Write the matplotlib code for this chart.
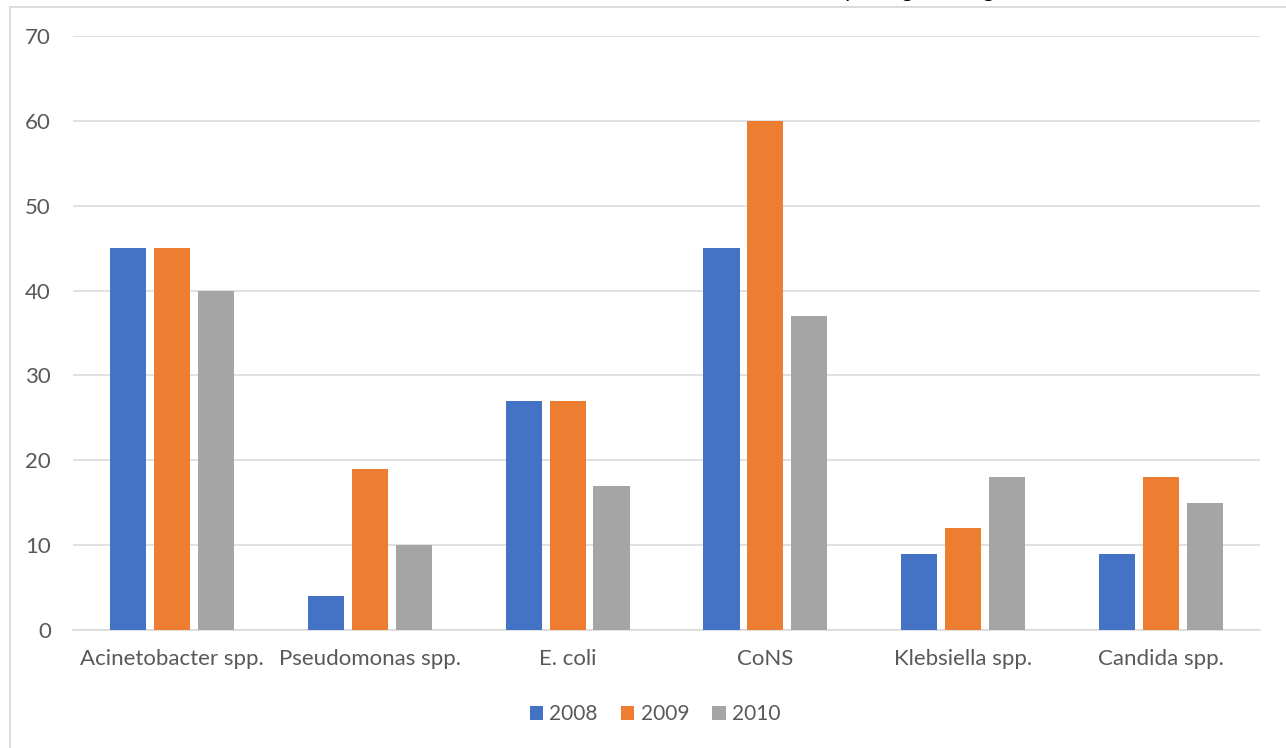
import numpy as np
import matplotlib
matplotlib.use("Agg")
import matplotlib.pyplot as plt
from matplotlib.patches import Rectangle, Patch

plt.rcParams['font.family'] = ['Lato', 'DejaVu Sans']

# data
categories = ['Acinetobacter spp.', 'Pseudomonas spp.', 'E. coli', 'CoNS',
              'Klebsiella spp.', 'Candida spp.']
years = ['2008', '2009', '2010']
v2008 = [45, 4, 27, 45, 9, 9]
v2009 = [45, 19, 27, 60, 12, 18]
v2010 = [40, 10, 17, 37, 18, 15]
colors = ['#4472C4', '#ED7D31', '#A5A5A5']
title = 'were isolated (pathogens) (Figure 1)'

fig = plt.figure(figsize=(12.86, 7.48), dpi=100)
ax = fig.add_axes([73/1286, 1-630/748, (1260-73)/1286, (630-36)/748])

# chart border (light gray frame, partly off the canvas)
fig.patches.append(Rectangle((9.5/1286, -0.05), 1.1, 1-6.5/748+0.05,
                             transform=fig.transFigure, fill=False,
                             edgecolor='#D9D9D9', linewidth=1.3, zorder=0))

x = np.arange(len(categories))
bw = 0.182
step = 0.222
for k, (vals, c) in enumerate(zip([v2008, v2009, v2010], colors)):
    ax.bar(x + (k-1)*step, vals, width=bw, color=c, zorder=3, label=years[k])

ax.set_xlim(-0.5, len(categories)-0.5)
ax.set_ylim(0, 70)
ax.set_yticks(range(0, 71, 10))
ax.set_xticks(x)
ax.set_xticklabels(categories)
ax.tick_params(axis='both', length=0, labelsize=16, labelcolor='#595959')
ax.tick_params(axis='y', pad=16)
ax.tick_params(axis='x', pad=14)
ax.grid(axis='y', color='#D9D9D9', linewidth=1.1, zorder=0)
for s in ['top', 'right', 'left']:
    ax.spines[s].set_visible(False)
ax.spines['bottom'].set_color('#D9D9D9')
ax.spines['bottom'].set_linewidth(1.1)

handles = [Patch(facecolor=c, label=y) for c, y in zip(colors, years)]
fig.legend(handles=handles, loc='center', bbox_to_anchor=(655/1286, 1-714/748),
           ncol=3, frameon=False, fontsize=15, handlelength=0.65, handleheight=0.65,
           handletextpad=0.3, columnspacing=1.1, labelcolor='#595959')

# title is cut off at the top of the picture, only its lower edge shows
fig.text(877/1286, 1+3/748, title, ha='center', va='baseline', fontsize=16,
         color='black')

fig.savefig('out.png', dpi=100, facecolor='white')
